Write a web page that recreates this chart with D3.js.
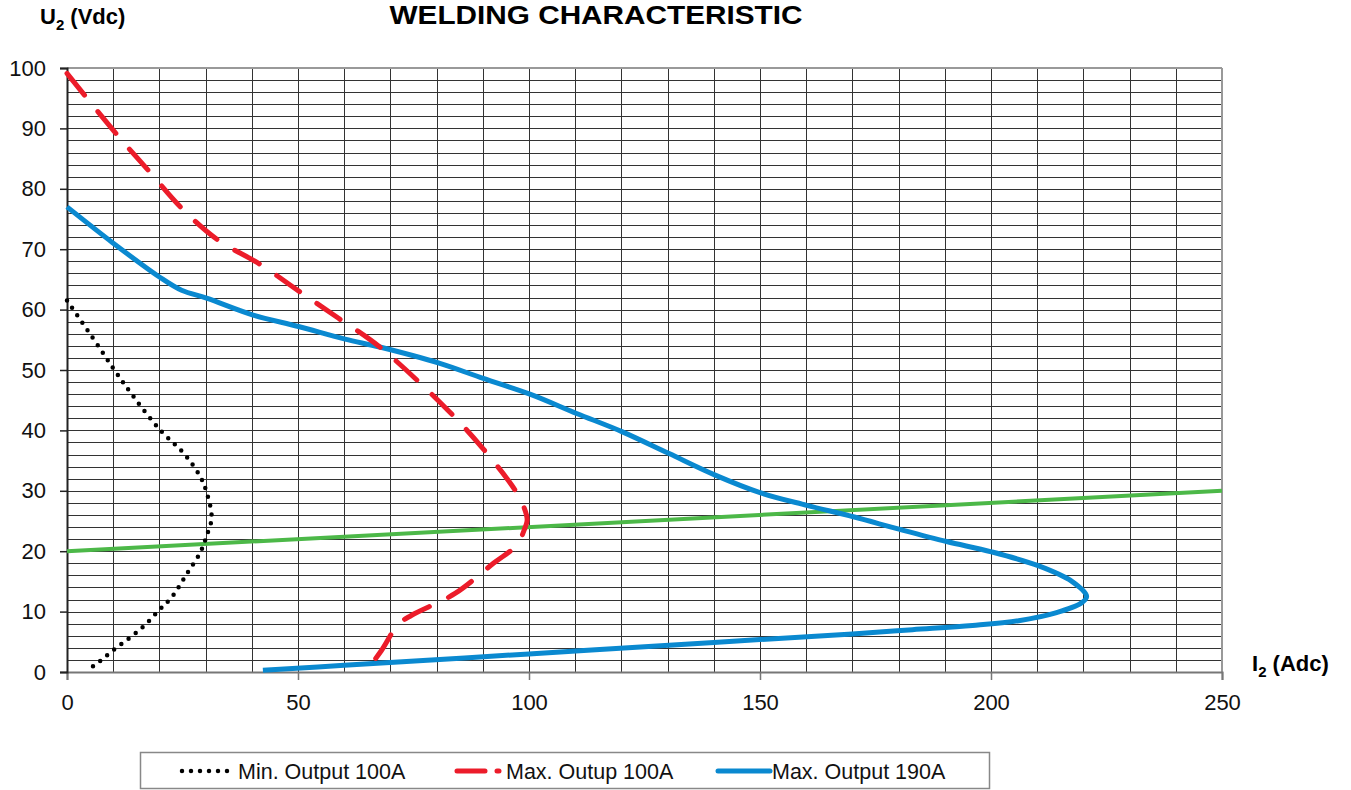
<!DOCTYPE html>
<html>
<head>
<meta charset="utf-8">
<script src="https://cdn.jsdelivr.net/npm/d3@7"></script>
<style>
    body { margin: 0; background: #fff; }
    text { font-family: "Liberation Sans", Arial, sans-serif; }
</style>
</head>
<body>
<svg id="drawing_region"></svg>
<script>
// values, [I2 (A), U2 (V)]
const min_output_100 = [
    [0, 61.5], [5.5, 55.4], [10, 50.3], [14.1, 45.9], [20, 40.2], [25.5, 36.0],
    [28.8, 32.4], [30.2, 29.8], [31.3, 25.5], [30.2, 22.5], [28.9, 19.9],
    [25.9, 16.2], [22.7, 12.4], [20, 10.3], [16.2, 7.3], [10, 3.6], [5.7, 1.0], [4.0, 0.4]
];
const max_output_100 = [
    [0, 99.1], [11.1, 88.7], [18, 82.7], [24.8, 76.8], [32.7, 71.5], [41.8, 67.5],
    [50.1, 63.1], [58.7, 58.6], [67.7, 53.8], [82.5, 43.3], [89.8, 37.2],
    [96.2, 31.0], [98.4, 28.2], [99.6, 25.2], [99.1, 23.8], [97.3, 21.0],
    [92.3, 18.0], [84, 13.0], [74.6, 9.4], [71.7, 7.9], [68.1, 3.6], [64.9, 0.3]
];
const max_output_190 = [
    [0, 77.0], [10, 71.0], [20, 65.4], [24.8, 63.2], [30.2, 61.9], [40.3, 59.1],
    [50.1, 57.2], [60.2, 55.1], [67.7, 53.8], [80.7, 51.1], [90.1, 48.6],
    [100.2, 46.0], [110.3, 42.8], [120.1, 39.8], [130.2, 36.2], [140.3, 32.6],
    [150, 29.7], [160.1, 27.6], [170.2, 25.7], [180.3, 23.6], [190.4, 21.6],
    [200.1, 19.9], [210.2, 17.6], [217.5, 15.0], [220.7, 12.5], [219.5, 11.4],
    [214, 9.8], [206, 8.5], [196, 7.7], [183, 7.0], [170, 6.3],
    [140, 4.9], [100, 3.0], [60, 1.1], [42.4, 0.3]
];
const load_line = [[0, 20], [250, 30]];

const x_ticks = [0, 50, 100, 150, 200, 250];
const y_ticks = [0, 10, 20, 30, 40, 50, 60, 70, 80, 90, 100];
const legend_labels = ['Min. Output 100A', 'Max. Outup 100A', 'Max. Output 190A'];

var config = {
    parent: '#drawing_region',
    width: 1351,
    height: 790,
    margin: { top: 68, right: 129, bottom: 118, left: 67 }
};

class WeldingChart {

    constructor(config) {
        this.config = config;
        this.init();
    }

    init() {
        let self = this;
        let m = self.config.margin;

        self.inner_width = self.config.width - m.left - m.right;
        self.inner_height = self.config.height - m.top - m.bottom;

        self.svg = d3.select(self.config.parent)
            .attr('width', self.config.width)
            .attr('height', self.config.height);

        self.chart = self.svg.append('g')
            .attr('transform', `translate(${m.left}, ${m.top})`);

        self.xscale = d3.scaleLinear().domain([0, 250]).range([0, self.inner_width]);
        self.yscale = d3.scaleLinear().domain([0, 100]).range([self.inner_height, 0]);

        self.line = d3.line()
            .x(d => self.xscale(d[0]))
            .y(d => self.yscale(d[1]))
            .curve(d3.curveCatmullRom.alpha(0.5));
    }

    render() {
        let self = this;

        // grid
        self.chart.append('g')
            .selectAll('line')
            .data(d3.range(2, 100, 2))
            .join('line')
            .attr('x1', 0).attr('x2', self.inner_width)
            .attr('y1', d => Math.round(self.yscale(d)) + 0.5)
            .attr('y2', d => Math.round(self.yscale(d)) + 0.5)
            .attr('stroke', '#333')
            .attr('stroke-width', 1);

        self.chart.append('g')
            .selectAll('line')
            .data(d3.range(10, 250, 10))
            .join('line')
            .attr('y1', 0).attr('y2', self.inner_height)
            .attr('x1', d => Math.round(self.xscale(d)) + 0.5)
            .attr('x2', d => Math.round(self.xscale(d)) + 0.5)
            .attr('stroke', '#333')
            .attr('stroke-width', 1);

        // frame
        self.chart.append('line')
            .attr('x1', 0).attr('x2', self.inner_width)
            .attr('y1', 0).attr('y2', 0)
            .attr('stroke', '#999').attr('stroke-width', 2);
        self.chart.append('line')
            .attr('x1', self.inner_width).attr('x2', self.inner_width)
            .attr('y1', 0).attr('y2', self.inner_height)
            .attr('stroke', '#999').attr('stroke-width', 2);

        // axes
        let xaxis = d3.axisBottom(self.xscale)
            .tickValues(x_ticks).tickSize(8).tickPadding(14);
        let yaxis = d3.axisLeft(self.yscale)
            .tickValues(y_ticks).tickSize(7).tickPadding(14);

        let gx = self.chart.append('g')
            .attr('transform', `translate(0, ${self.inner_height})`)
            .call(xaxis);
        gx.select('.domain').attr('stroke', '#777').attr('stroke-width', 2);
        gx.selectAll('.tick line').attr('stroke', '#777').attr('stroke-width', 1.5);

        let gy = self.chart.append('g').call(yaxis);
        gy.select('.domain').attr('stroke', '#222').attr('stroke-width', 2);
        gy.selectAll('.tick line').attr('stroke', '#222').attr('stroke-width', 1.5);

        self.svg.selectAll('.tick text')
            .attr('font-size', 22)
            .attr('font-family', '"Liberation Sans", Arial, sans-serif')
            .attr('fill', '#111');

        // curves
        self.chart.append('path')
            .datum(load_line)
            .attr('d', d3.line().x(d => self.xscale(d[0])).y(d => self.yscale(d[1])))
            .attr('fill', 'none')
            .attr('stroke', '#4cb848')
            .attr('stroke-width', 4);

        self.chart.append('path')
            .datum(max_output_190)
            .attr('d', self.line)
            .attr('fill', 'none')
            .attr('stroke', '#0a89d0')
            .attr('stroke-width', 5)
            .attr('stroke-linejoin', 'round');

        self.chart.append('path')
            .datum(max_output_100)
            .attr('d', self.line)
            .attr('fill', 'none')
            .attr('stroke', '#ec1c2a')
            .attr('stroke-width', 5)
            .attr('stroke-linecap', 'round')
            .attr('stroke-dasharray', '28,21');

        self.chart.append('path')
            .datum(min_output_100)
            .attr('d', self.line)
            .attr('fill', 'none')
            .attr('stroke', '#000')
            .attr('stroke-width', 4.5)
            .attr('stroke-linecap', 'round')
            .attr('stroke-dasharray', '0,9');

        // titles
        self.svg.append('text')
            .attr('x', 596).attr('y', 24)
            .attr('text-anchor', 'middle')
            .attr('font-size', 26).attr('font-weight', 'bold')
            .attr('textLength', 413).attr('lengthAdjust', 'spacingAndGlyphs')
            .text('WELDING CHARACTERISTIC');

        let ulab = self.svg.append('text')
            .attr('x', 40).attr('y', 24)
            .attr('font-size', 22).attr('font-weight', 'bold');
        ulab.append('tspan').text('U');
        ulab.append('tspan').attr('font-size', 15).attr('dy', 6).text('2');
        ulab.append('tspan').attr('dy', -6).text(' (Vdc)');

        let ilab = self.svg.append('text')
            .attr('x', 1252).attr('y', 671)
            .attr('font-size', 22).attr('font-weight', 'bold');
        ilab.append('tspan').text('I');
        ilab.append('tspan').attr('font-size', 15).attr('dy', 6).text('2');
        ilab.append('tspan').attr('dy', -6).text(' (Adc)');

        // legend
        let legend = self.svg.append('g');
        legend.append('rect')
            .attr('x', 140.5).attr('y', 752.5)
            .attr('width', 849).attr('height', 36)
            .attr('fill', '#fff')
            .attr('stroke', '#888').attr('stroke-width', 1.5);

        let items = [
            { x: 182, w: 48, tx: 238, color: '#000', sw: 4.5, dash: '0,9', label: legend_labels[0] },
            { x: 457, w: 42, tx: 506, color: '#ec1c2a', sw: 5, dash: '28,12', label: legend_labels[1] },
            { x: 718, w: 52, tx: 772, color: '#0a89d0', sw: 5, dash: null, label: legend_labels[2] }
        ];
        items.forEach(it => {
            legend.append('line')
                .attr('x1', it.x).attr('x2', it.x + it.w)
                .attr('y1', 771).attr('y2', 771)
                .attr('stroke', it.color)
                .attr('stroke-width', it.sw)
                .attr('stroke-linecap', 'round')
                .attr('stroke-dasharray', it.dash);
            legend.append('text')
                .attr('x', it.tx).attr('y', 779)
                .attr('font-size', 21.5)
                .attr('fill', '#111')
                .text(it.label);
        });
    }
}

const chart = new WeldingChart(config);
chart.render();
</script>
</body>
</html>
